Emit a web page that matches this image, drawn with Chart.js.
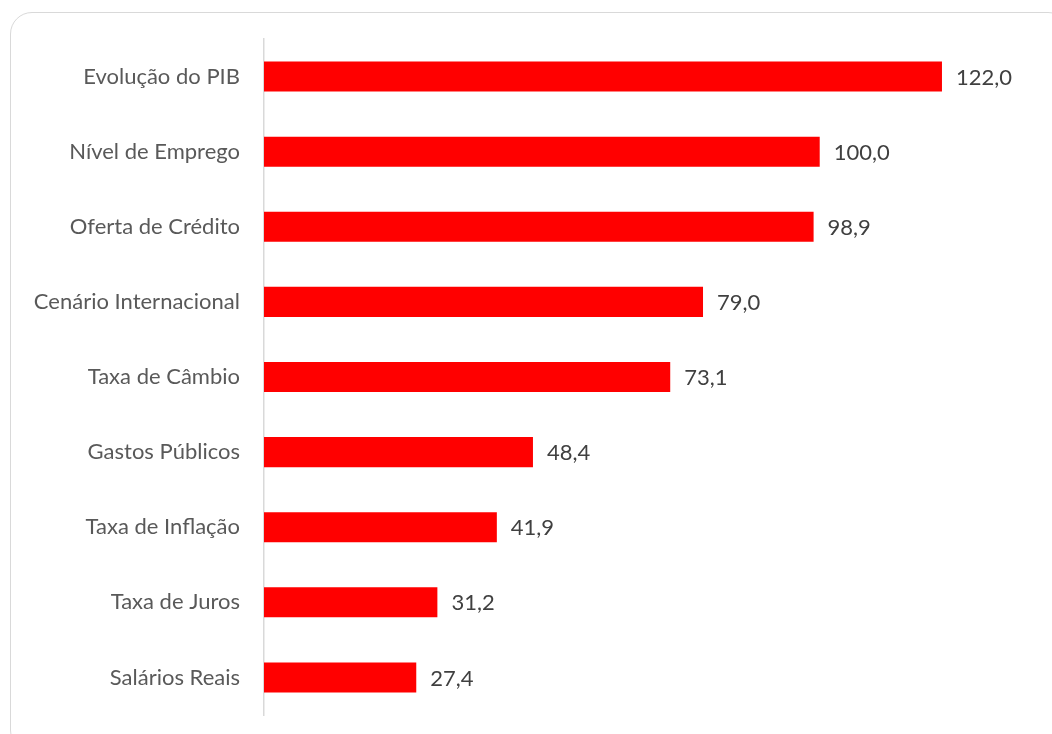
<!DOCTYPE html>
<html>
<head>
<meta charset="utf-8">
<script src="https://cdn.jsdelivr.net/npm/chart.js@4"></script>
<style>
  html, body { margin: 0; padding: 0; background: #fff; }
  #wrap { position: relative; width: 1052px; height: 734px; overflow: hidden; }
  #card {
    position: absolute; left: 10px; top: 12px; width: 1060px; height: 740px;
    border: 1.5px solid #d9d9d9; border-radius: 22px; box-sizing: border-box;
  }
  #chart { position: absolute; left: 0; top: 0; }
</style>
</head>
<body>
<div id="wrap">
  <div id="card"></div>
  <canvas id="chart" width="1052" height="734"></canvas>
</div>
<script>
const categories = [
    'Evolução do PIB',
    'Nível de Emprego',
    'Oferta de Crédito',
    'Cenário Internacional',
    'Taxa de Câmbio',
    'Gastos Públicos',
    'Taxa de Inflação',
    'Taxa de Juros',
    'Salários Reais'
];
const values = [122.0, 100.0, 98.9, 79.0, 73.1, 48.4, 41.9, 31.2, 27.4];

const fontFamily = 'Lato, "Open Sans", sans-serif';

const valueLabels = {
    id: 'valueLabels',
    afterDatasetsDraw(chart) {
        const ctx = chart.ctx;
        const meta = chart.getDatasetMeta(0);
        ctx.save();
        ctx.font = '22px ' + fontFamily;
        ctx.fillStyle = '#404040';
        ctx.textAlign = 'left';
        ctx.textBaseline = 'middle';
        meta.data.forEach(function (bar, i) {
            ctx.fillText(values[i].toFixed(1).replace('.', ','), bar.x + 14, bar.y + 1);
        });
        ctx.restore();
    }
};

new Chart(document.getElementById('chart').getContext('2d'), {
    type: 'bar',
    data: {
        labels: categories,
        datasets: [{
            data: values,
            backgroundColor: '#ff0000',
            barPercentage: 0.4,
            categoryPercentage: 1.0
        }]
    },
    options: {
        indexAxis: 'y',
        responsive: false,
        animation: false,
        layout: { padding: { top: 39, bottom: 19, left: 0, right: 0 } },
        scales: {
            x: {
                display: false,
                min: 0,
                max: 141.8
            },
            y: {
                grid: { display: false, drawTicks: false },
                border: { display: true, color: '#d9d9d9', width: 1.5 },
                ticks: {
                    color: '#595959',
                    padding: 24,
                    font: { size: 22, family: fontFamily }
                },
                afterFit: function (scale) {
                    scale.width = 264;
                    scale.paddingTop = 0;
                    scale.paddingBottom = 0;
                }
            }
        },
        plugins: {
            legend: { display: false },
            tooltip: { enabled: false }
        }
    },
    plugins: [valueLabels]
});
</script>
</body>
</html>
